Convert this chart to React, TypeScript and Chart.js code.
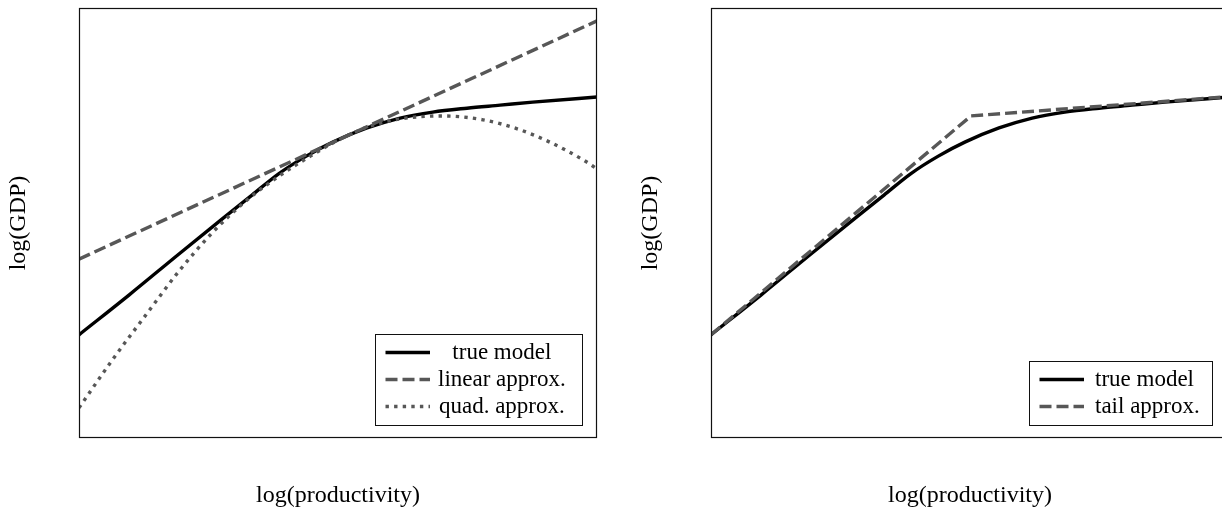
import { useEffect, useRef } from "react";
import { Chart, registerables } from "chart.js";

Chart.register(...registerables);

// ---------- data (x and y in arbitrary units 0..10) ----------
const xAxisTitle = "log(productivity)";
const yAxisTitle = "log(GDP)";

const trueModelX = [0, 0.97, 1.93, 2.76, 3.34, 3.86, 4.38, 4.9, 5.56, 6.2, 6.83, 7.49, 8.13, 8.76, 10];
const trueModelY = [2.4, 3.33, 4.28, 5.09, 5.65, 6.15, 6.55, 6.88, 7.21, 7.44, 7.58, 7.67, 7.74, 7.81, 7.93];

const linearX = [0, 10];
const linearY = [4.16, 9.7];

const quadX = [0, 0.64, 1.29, 1.93, 2.57, 3.22, 3.86, 4.5, 4.9, 5.56, 6.2, 7.03, 7.8, 8.46, 9.09, 9.73, 10];
const quadY = [0.7, 1.81, 2.86, 3.88, 4.77, 5.51, 6.09, 6.58, 6.86, 7.23, 7.42, 7.49, 7.4, 7.19, 6.88, 6.47, 6.26];

const tailX = [0, 5.02, 10];
const tailY = [2.4, 7.49, 7.94];

const leftLabels = ["true model", "linear approx.", "quad. approx."];
const rightLabels = ["true model", "tail approx."];

// ---------- styling ----------
const FONT = '"Liberation Serif", "Times New Roman", serif';
const GRAY = "#575757";
const LW = 3.4;

const pts = (xs: number[], ys: number[]) => xs.map((x, i) => ({ x, y: ys[i] }));

const decorPlugin = {
  id: "paperDecor",
  afterDatasetsDraw(chart: any, _args: any, opts: any) {
    const { ctx, chartArea: a } = chart;
    ctx.save();
    // frame
    ctx.strokeStyle = "#111";
    ctx.lineWidth = 1.2;
    ctx.strokeRect(Math.round(a.left) + 0.5, Math.round(a.top) + 0.5, Math.round(a.right - a.left) - 1, Math.round(a.bottom - a.top) - 1);

    // axis titles
    ctx.fillStyle = "#000";
    ctx.font = `24px ${FONT}`;
    ctx.textAlign = "center";
    ctx.textBaseline = "alphabetic";
    ctx.fillText(opts.xTitle, (a.left + a.right) / 2, 502);
    ctx.save();
    ctx.translate(a.left - 54, (a.top + a.bottom) / 2);
    ctx.rotate(-Math.PI / 2);
    ctx.fillText(opts.yTitle, 0, 0);
    ctx.restore();

    // legend
    const ds = chart.data.datasets;
    const n = ds.length;
    const rowH = 27;
    const W = opts.legendWidth;
    const H = n * rowH + 10;
    const x0 = Math.round(a.right - opts.legendRight - W);
    const y0 = Math.round(a.bottom - 13 - H);
    ctx.fillStyle = "#fff";
    ctx.fillRect(x0, y0, W, H);
    ctx.strokeStyle = "#111";
    ctx.lineWidth = 1;
    ctx.strokeRect(x0 + 0.5, y0 + 0.5, W, H);

    ctx.font = `23px ${FONT}`;
    ctx.textAlign = "left";
    const widths = ds.map((d: any) => ctx.measureText(d.label).width);
    const maxW = Math.max(...widths);
    ds.forEach((d: any, i: number) => {
      const cy = y0 + 5 + rowH / 2 + rowH * i;
      ctx.save();
      ctx.strokeStyle = d.borderColor;
      ctx.lineWidth = d.borderWidth;
      ctx.setLineDash(d.borderDash || []);
      ctx.lineCap = "butt";
      ctx.beginPath();
      ctx.moveTo(x0 + 10.5, cy);
      ctx.lineTo(x0 + 55, cy);
      ctx.stroke();
      ctx.restore();
      ctx.fillStyle = "#000";
      const tx = x0 + opts.textOffset + (opts.center ? (maxW - widths[i]) / 2 : 0);
      ctx.fillText(d.label, tx, cy + 6);
    });
    ctx.restore();
  },
};

function baseOptions(padding: any, decor: any) {
  return {
    responsive: false,
    animation: false,
    layout: { padding },
    scales: {
      x: { type: "linear", min: 0, max: 10, display: false },
      y: { type: "linear", min: 0, max: 10, display: false },
    },
    elements: { point: { radius: 0, hoverRadius: 0 } },
    plugins: {
      legend: { display: false },
      tooltip: { enabled: false },
      paperDecor: decor,
    },
  };
}

export default function App() {
  const leftRef = useRef<HTMLCanvasElement>(null);
  const rightRef = useRef<HTMLCanvasElement>(null);

  useEffect(() => {
    const left = new Chart(leftRef.current as HTMLCanvasElement, {
      type: "line",
      data: {
        datasets: [
          {
            label: leftLabels[0],
            data: pts(trueModelX, trueModelY),
            borderColor: "#000",
            borderWidth: LW,
            cubicInterpolationMode: "monotone",
            order: 3,
          },
          {
            label: leftLabels[1],
            data: pts(linearX, linearY),
            borderColor: GRAY,
            borderWidth: LW,
            borderDash: [12, 5],
            tension: 0,
            order: 2,
          },
          {
            label: leftLabels[2],
            data: pts(quadX, quadY),
            borderColor: GRAY,
            borderWidth: LW,
            borderDash: [3.4, 5.2],
            cubicInterpolationMode: "monotone",
            order: 1,
          },
        ],
      },
      options: baseOptions(
        { left: 79, right: 14, top: 8, bottom: 70 },
        { xTitle: xAxisTitle, yTitle: yAxisTitle, legendWidth: 207, legendRight: 15, textOffset: 63, center: true }
      ) as any,
      plugins: [decorPlugin],
    } as any);

    const right = new Chart(rightRef.current as HTMLCanvasElement, {
      type: "line",
      data: {
        datasets: [
          {
            label: rightLabels[0],
            data: pts(trueModelX, trueModelY),
            borderColor: "#000",
            borderWidth: LW,
            cubicInterpolationMode: "monotone",
            order: 2,
          },
          {
            label: rightLabels[1],
            data: pts(tailX, tailY),
            borderColor: GRAY,
            borderWidth: LW,
            borderDash: [12, 5],
            borderJoinStyle: "round",
            tension: 0,
            order: 1,
          },
        ],
      },
      options: baseOptions(
        { left: 100, right: 12, top: 8, bottom: 70 },
        { xTitle: xAxisTitle, yTitle: yAxisTitle, legendWidth: 183, legendRight: 17, textOffset: 66, center: false }
      ) as any,
      plugins: [decorPlugin],
    } as any);

    return () => {
      left.destroy();
      right.destroy();
    };
  }, []);

  return (
    <div
      style={{
        position: "fixed",
        left: 0,
        top: 0,
        width: 1222,
        height: 508,
        overflow: "hidden",
        background: "#fff",
      }}
    >
      <canvas
        ref={leftRef}
        width={611}
        height={508}
        style={{ position: "absolute", left: 0, top: 0, width: 611, height: 508 }}
      />
      <canvas
        ref={rightRef}
        width={630}
        height={508}
        style={{ position: "absolute", left: 611, top: 0, width: 630, height: 508 }}
      />
    </div>
  );
}
